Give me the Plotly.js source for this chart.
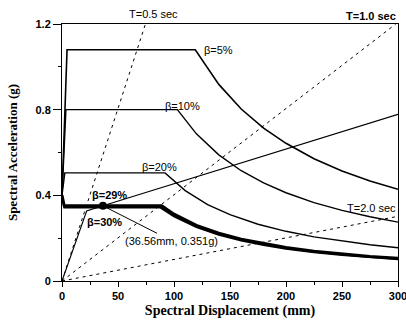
<!DOCTYPE html>
<html>
<head>
<meta charset="utf-8">
<script src="https://cdn.plot.ly/plotly-3.0.1.min.js"></script>
<style>html,body{margin:0;padding:0;background:#fff;}#chart{width:406px;height:323px;}</style>
</head>
<body>
<div id="chart"></div>
<script>
// Demand spectra (ADRS), Sd in mm, Sa in g
const sd5  = [0, 4.5, 119, 140, 160, 180, 200, 225, 250, 275, 300];
const sa5  = [0.40, 1.08, 1.08, 0.918, 0.803, 0.714, 0.643, 0.571, 0.514, 0.467, 0.428];
const sd10 = [0, 3.5, 103, 120, 140, 160, 180, 200, 225, 250, 275, 300];
const sa10 = [0.40, 0.80, 0.80, 0.687, 0.589, 0.515, 0.458, 0.412, 0.366, 0.330, 0.300, 0.275];
const sd20 = [0, 2.5, 92, 110, 130, 150, 175, 200, 225, 250, 275, 300];
const sa20 = [0.40, 0.505, 0.505, 0.422, 0.357, 0.310, 0.265, 0.232, 0.206, 0.186, 0.169, 0.155];
const sd29 = [0, 2, 89, 100, 120, 140, 160, 180, 200, 225, 250, 275, 300];
const sa29 = [0.40, 0.351, 0.351, 0.312, 0.260, 0.223, 0.195, 0.174, 0.156, 0.139, 0.125, 0.114, 0.106];
const sd30 = [0, 2, 88, 100, 120, 140, 160, 180, 200, 225, 250, 275, 300];
const sa30 = [0.40, 0.343, 0.343, 0.302, 0.252, 0.216, 0.189, 0.168, 0.151, 0.134, 0.121, 0.110, 0.102];
// Capacity spectrum
const capSd = [0, 22, 36.56, 300];
const capSa = [0, 0.327, 0.351, 0.778];
// Constant period lines
const t05Sd = [0, 74.5];  const t05Sa = [0, 1.2];
const t10Sd = [0, 298];   const t10Sa = [0, 1.2];
const t20Sd = [0, 300];   const t20Sa = [0, 0.302];
// Performance point
const ppSd = [36.56]; const ppSa = [0.351];
// Tick labels
const xTicks = [0, 50, 100, 150, 200, 250, 300];
const yTicks = [0, 0.4, 0.8, 1.2];
const yTickText = ['0', '0.4', '0.8', '1.2'];

const blk = '#000';
const dsh = '3px,4px';
const traces = [
  {x:t05Sd, y:t05Sa, mode:'lines', line:{color:blk, width:1, dash:dsh}},
  {x:t10Sd, y:t10Sa, mode:'lines', line:{color:blk, width:1, dash:dsh}},
  {x:t20Sd, y:t20Sa, mode:'lines', line:{color:blk, width:1, dash:dsh}},
  {x:sd5, y:sa5, mode:'lines', line:{color:blk, width:1.6}},
  {x:sd10, y:sa10, mode:'lines', line:{color:blk, width:1.4}},
  {x:sd20, y:sa20, mode:'lines', line:{color:blk, width:1.4}},
  {x:sd30, y:sa30, mode:'lines', line:{color:blk, width:2}},
  {x:sd29, y:sa29, mode:'lines', line:{color:blk, width:3}},
  {x:capSd, y:capSa, mode:'lines', line:{color:blk, width:1.1}},
  {x:ppSd, y:ppSa, mode:'markers', marker:{color:blk, size:8}}
];

const lf = {family:'Liberation Sans, Arial, sans-serif', size:11, color:blk};
const bf = Object.assign({}, lf, {weight:'bold'});
const ann = (text, x, y, xa, extra) => Object.assign({text:text, x:x, y:y, xref:'x', yref:'y', xanchor:xa, yanchor:'middle', showarrow:false, font:lf}, extra||{});
const tf = {family:'Liberation Sans, Arial, sans-serif', size:11, color:blk, weight:'bold'};

const layout = {
  width:406, height:323,
  margin:{l:62, r:8, t:24, b:42},
  paper_bgcolor:'#fff', plot_bgcolor:'#fff',
  showlegend:false,
  xaxis:{
    range:[0,300], tickmode:'array', tickvals:xTicks, ticktext:xTicks.map(String),
    ticks:'outside', ticklen:5, tickwidth:1, tickcolor:blk,
    minor:{dtick:25, ticks:'outside', ticklen:3, tickcolor:blk},
    showline:true, linecolor:blk, linewidth:1, mirror:true,
    showgrid:false, zeroline:false, ticklabeloverflow:'allow', automargin:false,
    tickfont:tf,
    title:{text:'Spectral Displacement (mm)', standoff:3,
      font:{family:'Liberation Serif, Times New Roman, serif', size:14, color:blk, weight:'bold'}}
  },
  yaxis:{
    range:[0,1.2], tickmode:'array', tickvals:yTicks, ticktext:yTickText,
    ticks:'outside', ticklen:8, tickwidth:1, tickcolor:blk,
    minor:{tickvals:[0.2,0.6,1.0], ticks:'outside', ticklen:3, tickcolor:blk},
    showline:true, linecolor:blk, linewidth:1, mirror:true,
    showgrid:false, zeroline:false, automargin:false,
    tickfont:tf,
    title:{text:'Spectral Acceleration (g)', standoff:14,
      font:{family:'Liberation Serif, Times New Roman, serif', size:13, color:blk, weight:'bold'}}
  },
  annotations:[
    ann('T=0.5 sec', 0.193, 1.039, 'left', {xref:'paper', yref:'paper'}),
    ann('T=1.0 sec', 1.0, 1.031, 'right', {xref:'paper', yref:'paper', font:bf}),
    ann('T=2.0 sec', 300, 0.342, 'right'),
    ann('β=5%', 125, 1.08, 'left'),
    ann('β=10%', 90, 0.816, 'left'),
    ann('β=20%', 69.6, 0.534, 'left'),
    ann('β=29%', 25, 0.403, 'left', {font:bf}),
    ann('β=30%', 20.5, 0.277, 'left', {font:bf}),
    {text:'(36.56mm, 0.351g)', x:ppSd[0], y:ppSa[0], xref:'x', yref:'y',
     ax:98, ay:0.188, axref:'x', ayref:'y', showarrow:true, arrowhead:0, arrowwidth:1, arrowcolor:blk, standoff:0,
     font:{family:'Liberation Sans, Arial, sans-serif', size:11, color:blk}}
  ]
};

Plotly.newPlot('chart', traces, layout, {displayModeBar:false, staticPlot:true});
</script>
</body>
</html>
